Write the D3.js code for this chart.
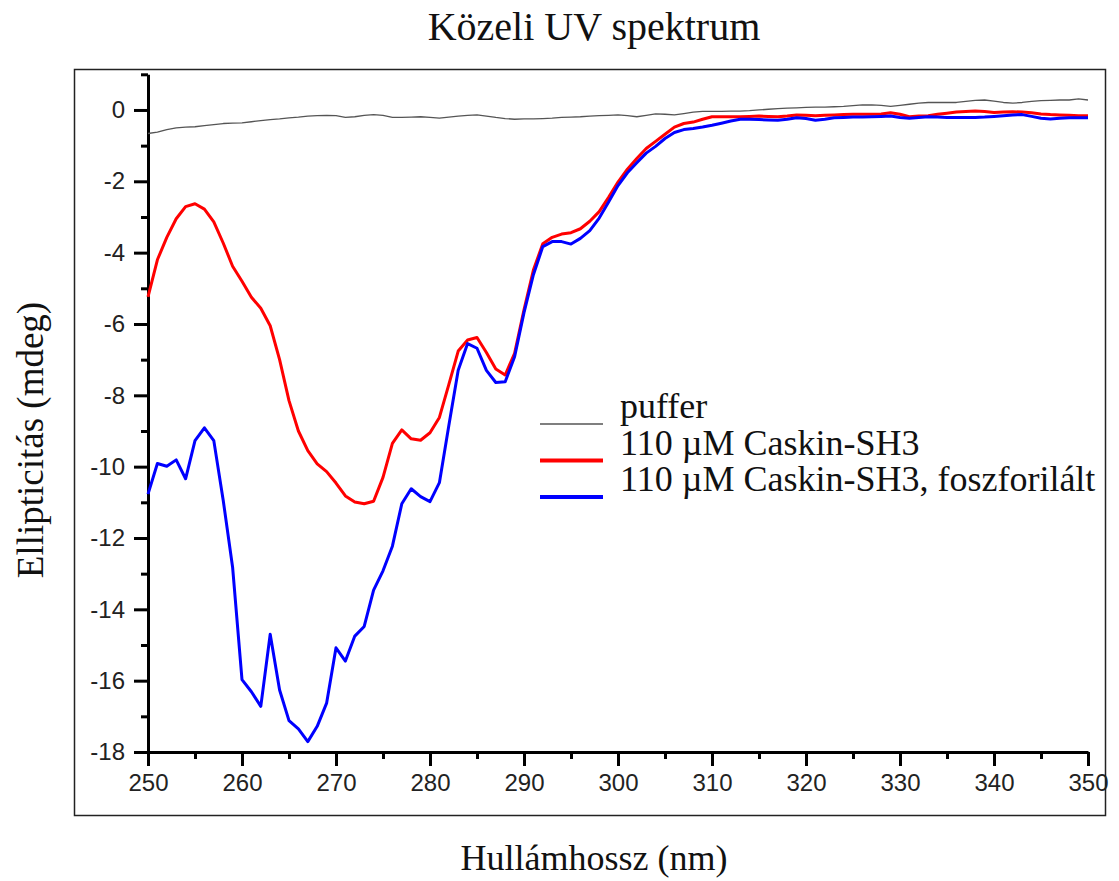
<!DOCTYPE html>
<html>
<head>
<meta charset="utf-8">
<script src="https://cdn.jsdelivr.net/npm/d3@7"></script>
<style>
  body { margin: 0; background: #fff; }
  .tick text { font-family: "Liberation Sans", Arial, sans-serif; font-size: 24px; fill: #222; }
  .domain, .tick line { stroke: #000; stroke-width: 3px; }
</style>
</head>
<body>
<script>
const wavelength = d3.range(250, 351);

const puffer = [
  -0.66, -0.62, -0.55, -0.50, -0.48, -0.47, -0.44, -0.41, -0.38, -0.37,
  -0.36, -0.33, -0.30, -0.27, -0.25, -0.22, -0.20, -0.17, -0.16, -0.15,
  -0.16, -0.21, -0.19, -0.15, -0.13, -0.15, -0.21, -0.21, -0.20, -0.19,
  -0.21, -0.23, -0.20, -0.17, -0.15, -0.14, -0.17, -0.21, -0.24, -0.26,
  -0.25, -0.25, -0.24, -0.23, -0.21, -0.20, -0.19, -0.17, -0.16, -0.15,
  -0.14, -0.16, -0.19, -0.15, -0.11, -0.12, -0.14, -0.10, -0.06, -0.04,
  -0.04, -0.04, -0.03, -0.03, -0.02, 0.00, 0.02, 0.04, 0.05, 0.06,
  0.07, 0.08, 0.08, 0.09, 0.10, 0.12, 0.14, 0.14, 0.13, 0.10,
  0.13, 0.16, 0.19, 0.21, 0.21, 0.21, 0.21, 0.24, 0.27, 0.28,
  0.25, 0.21, 0.19, 0.21, 0.24, 0.26, 0.27, 0.28, 0.28, 0.31,
  0.28
];

const caskin = [
  -5.24, -4.20, -3.57, -3.05, -2.71, -2.63, -2.78, -3.14, -3.73, -4.38,
  -4.80, -5.25, -5.56, -6.05, -7.00, -8.15, -9.00, -9.55, -9.92, -10.14,
  -10.46, -10.82, -10.99, -11.04, -10.97, -10.30, -9.35, -8.97, -9.22, -9.26,
  -9.05, -8.62, -7.70, -6.76, -6.45, -6.38, -6.80, -7.26, -7.43, -6.82,
  -5.60, -4.49, -3.75, -3.57, -3.48, -3.44, -3.33, -3.12, -2.85, -2.45,
  -2.02, -1.66, -1.36, -1.08, -0.88, -0.68, -0.48, -0.38, -0.34, -0.26,
  -0.19, -0.19, -0.19, -0.19, -0.18, -0.17, -0.18, -0.19, -0.17, -0.14,
  -0.15, -0.16, -0.15, -0.14, -0.13, -0.12, -0.12, -0.12, -0.11, -0.08,
  -0.12, -0.19, -0.17, -0.16, -0.12, -0.09, -0.06, -0.04, -0.03, -0.04,
  -0.07, -0.06, -0.05, -0.06, -0.08, -0.11, -0.13, -0.14, -0.15, -0.16,
  -0.16
];

const caskinP = [
  -10.77, -9.91, -9.99, -9.81, -10.34, -9.27, -8.91, -9.27, -10.94, -12.82,
  -15.97, -16.31, -16.72, -14.70, -16.26, -17.12, -17.35, -17.71, -17.28, -16.63,
  -15.08, -15.45, -14.75, -14.48, -13.46, -12.92, -12.23, -11.04, -10.62, -10.84,
  -10.98, -10.45, -8.85, -7.30, -6.55, -6.68, -7.30, -7.64, -7.62, -6.92,
  -5.68, -4.62, -3.83, -3.69, -3.69, -3.76, -3.60, -3.38, -3.03, -2.58,
  -2.12, -1.76, -1.48, -1.21, -1.02, -0.80, -0.63, -0.55, -0.52, -0.48,
  -0.43, -0.37, -0.31, -0.26, -0.26, -0.27, -0.28, -0.29, -0.26, -0.22,
  -0.24, -0.29, -0.26, -0.22, -0.21, -0.20, -0.20, -0.19, -0.18, -0.17,
  -0.21, -0.23, -0.21, -0.19, -0.20, -0.21, -0.21, -0.21, -0.21, -0.20,
  -0.18, -0.16, -0.14, -0.13, -0.18, -0.23, -0.25, -0.23, -0.22, -0.22,
  -0.22
];

const seriesNames = ['puffer', '110 µM Caskin-SH3', '110 µM Caskin-SH3, foszforilált'];
const seriesValues = [puffer, caskin, caskinP];
const seriesColors = ['#555', '#ff0000', '#0000ff'];
const seriesWidths = [1.3, 3, 3];

const xTicks = d3.range(250, 351, 10);
const xMinor = d3.range(255, 351, 10);
const yTicks = d3.range(-18, 1, 2);
const yMinor = d3.range(-17, 2, 2);

const width = 1119;
const height = 881;
const serif = '"Liberation Serif", "Times New Roman", serif';

const svg = d3.select('body')
  .append('svg')
  .attr('width', width)
  .attr('height', height);

// FRAME
svg.append('rect')
  .attr('x', 74.5)
  .attr('y', 69.5)
  .attr('width', 1031)
  .attr('height', 746)
  .attr('fill', 'none')
  .attr('stroke', '#222')
  .attr('stroke-width', 1.5);

// SCALES
const xScale = d3.scaleLinear().domain([250, 350]).range([148, 1088]);
const yScale = d3.scaleLinear().domain([-18, 1]).range([752, 74.3]);

// AXES (plain hyphen for negatives, like the original)
const plain = d => String(d);

svg.append('g')
  .attr('transform', `translate(0,${yScale(-18)})`)
  .call(d3.axisBottom(xScale).tickValues(xMinor).tickSize(7).tickFormat(''))
  .call(g => g.select('.domain').remove());

svg.append('g')
  .attr('transform', `translate(0,${yScale(-18)})`)
  .call(d3.axisBottom(xScale).tickValues(xTicks).tickSize(14).tickSizeOuter(0).tickPadding(8).tickFormat(plain));

svg.append('g')
  .attr('transform', `translate(${xScale(250)},0)`)
  .call(d3.axisLeft(yScale).tickValues(yMinor).tickSize(7).tickFormat(''))
  .call(g => g.select('.domain').remove());

svg.append('g')
  .attr('transform', `translate(${xScale(250)},0)`)
  .call(d3.axisLeft(yScale).tickValues(yTicks).tickSize(14).tickSizeOuter(0).tickPadding(9).tickFormat(plain));

// LINES
const line = d3.line()
  .x((d, i) => xScale(wavelength[i]))
  .y(d => yScale(d));

seriesValues.forEach((vals, k) => {
  svg.append('path')
    .datum(vals)
    .attr('fill', 'none')
    .attr('stroke', seriesColors[k])
    .attr('stroke-width', seriesWidths[k])
    .attr('stroke-linejoin', 'round')
    .attr('d', line);
});

// LEGEND
const legend = svg.append('g').attr('transform', 'translate(540,0)');
seriesNames.forEach((name, k) => {
  const y = 424 + k * 36.5;
  legend.append('line')
    .attr('x1', 0).attr('x2', 63)
    .attr('y1', y).attr('y2', y)
    .attr('stroke', seriesColors[k])
    .attr('stroke-width', k === 0 ? 1.5 : 4);
  legend.append('text')
    .attr('x', 80)
    .attr('y', y - 6)
    .style('font-family', serif)
    .style('font-size', '36px')
    .attr('fill', '#111')
    .text(name);
});

// TITLES
svg.append('text')
  .attr('x', 594)
  .attr('y', 40)
  .attr('text-anchor', 'middle')
  .style('font-family', serif)
  .style('font-size', '40px')
  .attr('fill', '#111')
  .text('Közeli UV spektrum');

svg.append('text')
  .attr('x', 594)
  .attr('y', 870)
  .attr('text-anchor', 'middle')
  .style('font-family', serif)
  .style('font-size', '36px')
  .attr('fill', '#111')
  .text('Hullámhossz (nm)');

svg.append('text')
  .attr('transform', 'translate(43,440) rotate(-90)')
  .attr('text-anchor', 'middle')
  .style('font-family', serif)
  .style('font-size', '37px')
  .attr('fill', '#111')
  .text('Ellipticitás (mdeg)');
</script>
</body>
</html>
